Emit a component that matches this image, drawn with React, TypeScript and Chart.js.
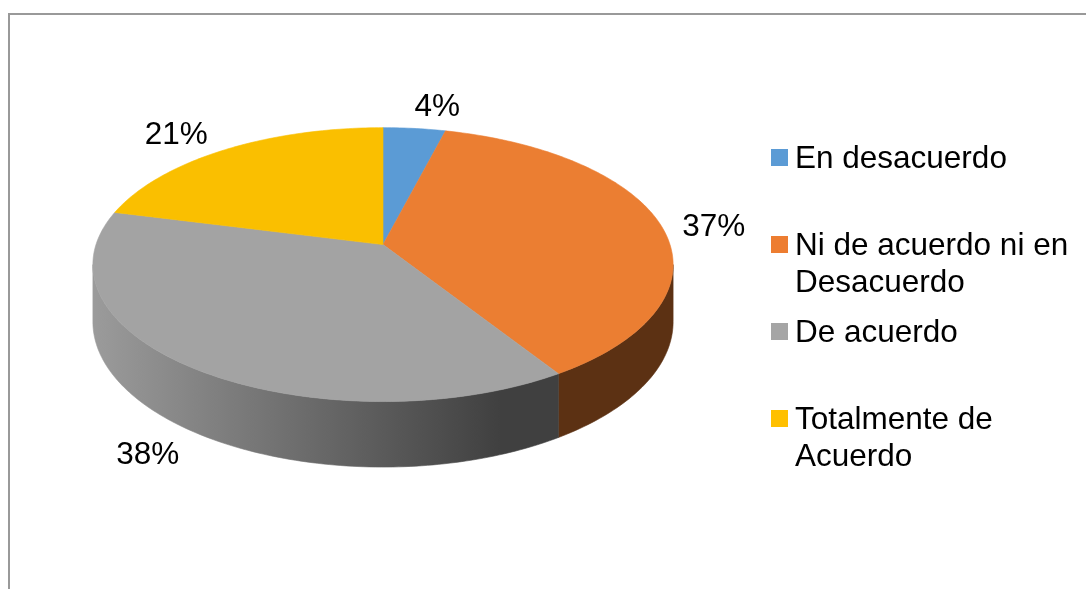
import React, { useEffect, useRef } from 'react';
import { Chart, registerables } from 'chart.js';

Chart.register(...registerables);

// ---- data ----
const categories = ['En desacuerdo', 'Ni de acuerdo ni en Desacuerdo', 'De acuerdo', 'Totalmente de Acuerdo'];
const percentages = [4, 37, 38, 21];
const percentLabels = ['4%', '37%', '38%', '21%'];
const sliceColors = ['#5B9BD5', '#ED7D31', '#A5A5A5', '#FFC000'];
const topColors = ['#5B9BD5', '#EB7E32', '#A3A3A3', '#FABF00'];

// ---- style constants ----
const FONT = '31.5px "Liberation Sans", Arial, Helvetica, sans-serif';
const TILT = 0.467; // vertical squash of top face
const PERSP = 0.146; // perspective strength
const DEPTH = 0.195; // side wall depth (fraction of radius)
const CENTER_SHIFT = 0.2; // upward shift of pie center
const LABEL_R = 1.18;
const labelNudges: [number, number][] = [[18, -6], [5, 4], [-4, -5], [-24, -2]];

function shade(hex: string, f: number) {
  const n = parseInt(hex.slice(1), 16);
  const r = Math.round(((n >> 16) & 255) * f);
  const g = Math.round(((n >> 8) & 255) * f);
  const b = Math.round((n & 255) * f);
  return `rgb(${r},${g},${b})`;
}

const pie3d = {
  id: 'pie3d',
  beforeDatasetsDraw(chart: any) {
    const meta = chart.getDatasetMeta(0);
    const arcs = meta.data;
    if (!arcs.length) return false;
    const ctx: CanvasRenderingContext2D = chart.ctx;
    const R = arcs[0].outerRadius;
    const cx = arcs[0].x;
    const cy = arcs[0].y - CENTER_SHIFT * R;
    const rx = R;
    const ry = R * TILT;
    const dep = R * DEPTH;
    const proj = (theta: number, r: number, d: number): [number, number] => {
      const u = r * Math.sin(theta);
      const v = -r * Math.cos(theta);
      const s = 1 / (1 - PERSP * v);
      return [cx + u * rx * s, cy + v * ry * s + d * dep * s];
    };
    const steps = (a: number, b: number) => Math.max(2, Math.ceil(((b - a) / (2 * Math.PI)) * 360));
    const visA = Math.acos(-PERSP);
    const visB = 2 * Math.PI - visA;
    const gx0 = cx - 1.0108 * rx;
    const gx1 = cx + 0.41 * rx;

    ctx.save();
    // side walls
    arcs.forEach((arc: any, i: number) => {
      const a = Math.max(arc.startAngle + Math.PI / 2, visA);
      const b = Math.min(arc.endAngle + Math.PI / 2, visB);
      if (b <= a) return;
      const n = steps(a, b);
      ctx.beginPath();
      for (let j = 0; j <= n; j++) {
        const p = proj(a + ((b - a) * j) / n, 1, 0);
        j === 0 ? ctx.moveTo(p[0], p[1]) : ctx.lineTo(p[0], p[1]);
      }
      for (let j = n; j >= 0; j--) {
        const p = proj(a + ((b - a) * j) / n, 1, 1);
        ctx.lineTo(p[0], p[1]);
      }
      ctx.closePath();
      const grad = ctx.createLinearGradient(gx0, 0, gx1, 0);
      grad.addColorStop(0, shade(sliceColors[i], 0.94));
      grad.addColorStop(1, shade(sliceColors[i], 0.39));
      ctx.fillStyle = grad;
      ctx.strokeStyle = grad;
      ctx.lineWidth = 0.6;
      ctx.fill();
      ctx.stroke();
    });
    // top faces
    arcs.forEach((arc: any, i: number) => {
      const a = arc.startAngle + Math.PI / 2;
      const b = arc.endAngle + Math.PI / 2;
      const n = steps(a, b);
      ctx.beginPath();
      ctx.moveTo(cx, cy);
      for (let j = 0; j <= n; j++) {
        const p = proj(a + ((b - a) * j) / n, 1, 0);
        ctx.lineTo(p[0], p[1]);
      }
      ctx.closePath();
      ctx.fillStyle = topColors[i];
      ctx.strokeStyle = topColors[i];
      ctx.lineWidth = 0.6;
      ctx.fill();
      ctx.stroke();
    });
    // data labels
    ctx.font = FONT;
    ctx.fillStyle = '#000';
    ctx.textAlign = 'center';
    ctx.textBaseline = 'alphabetic';
    arcs.forEach((arc: any, i: number) => {
      const mid = (arc.startAngle + arc.endAngle) / 2 + Math.PI / 2;
      const front = -Math.cos(mid) > 0 ? 1 : 0;
      const p = proj(mid, LABEL_R, front);
      ctx.fillText(percentLabels[i], p[0] + labelNudges[i][0], p[1] + labelNudges[i][1] + 11);
    });
    ctx.restore();
    return false;
  },
  afterDraw(chart: any) {
    const ctx: CanvasRenderingContext2D = chart.ctx;
    const labels: string[] = chart.data.labels;
    const colors: string[] = chart.data.datasets[0].backgroundColor;
    ctx.save();
    ctx.font = FONT;
    ctx.fillStyle = '#000';
    ctx.textAlign = 'left';
    ctx.textBaseline = 'alphabetic';
    const maxW = 285;
    labels.forEach((lab, i) => {
      const words = lab.split(' ');
      const lines: string[] = [];
      let cur = '';
      words.forEach((w) => {
        const t = cur ? cur + ' ' + w : w;
        if (ctx.measureText(t).width > maxW && cur) {
          lines.push(cur);
          cur = w;
        } else cur = t;
      });
      if (cur) lines.push(cur);
      const top = 134 + 87 * i;
      ctx.fillStyle = colors[i];
      ctx.fillRect(761, top, 17, 17);
      ctx.fillStyle = '#000';
      lines.forEach((ln, j) => ctx.fillText(ln, 785, 153 + 87 * i + 37 * j));
    });
    ctx.restore();
  },
};

export default function App() {
  const ref = useRef<HTMLCanvasElement | null>(null);
  useEffect(() => {
    if (!ref.current) return;
    const chart = new Chart(ref.current, {
      type: 'pie',
      data: {
        labels: categories,
        datasets: [
          {
            data: percentages,
            backgroundColor: sliceColors,
            borderWidth: 0,
          },
        ],
      },
      options: {
        responsive: false,
        devicePixelRatio: 1,
        animation: false,
        events: [],
        layout: { padding: { left: 86, right: 416, top: 0, bottom: 0 } },
        plugins: {
          legend: { display: false },
          tooltip: { enabled: false },
          title: { display: false },
        },
      },
      plugins: [pie3d],
    });
    return () => chart.destroy();
  }, []);
  return (
    <div
      style={{
        position: 'fixed',
        left: 8,
        top: 13,
        width: 1100,
        height: 600,
        border: '2px solid #999',
        background: '#fff',
      }}
    >
      <canvas ref={ref} width={1076} height={574} style={{ display: 'block' }} />
    </div>
  );
}
